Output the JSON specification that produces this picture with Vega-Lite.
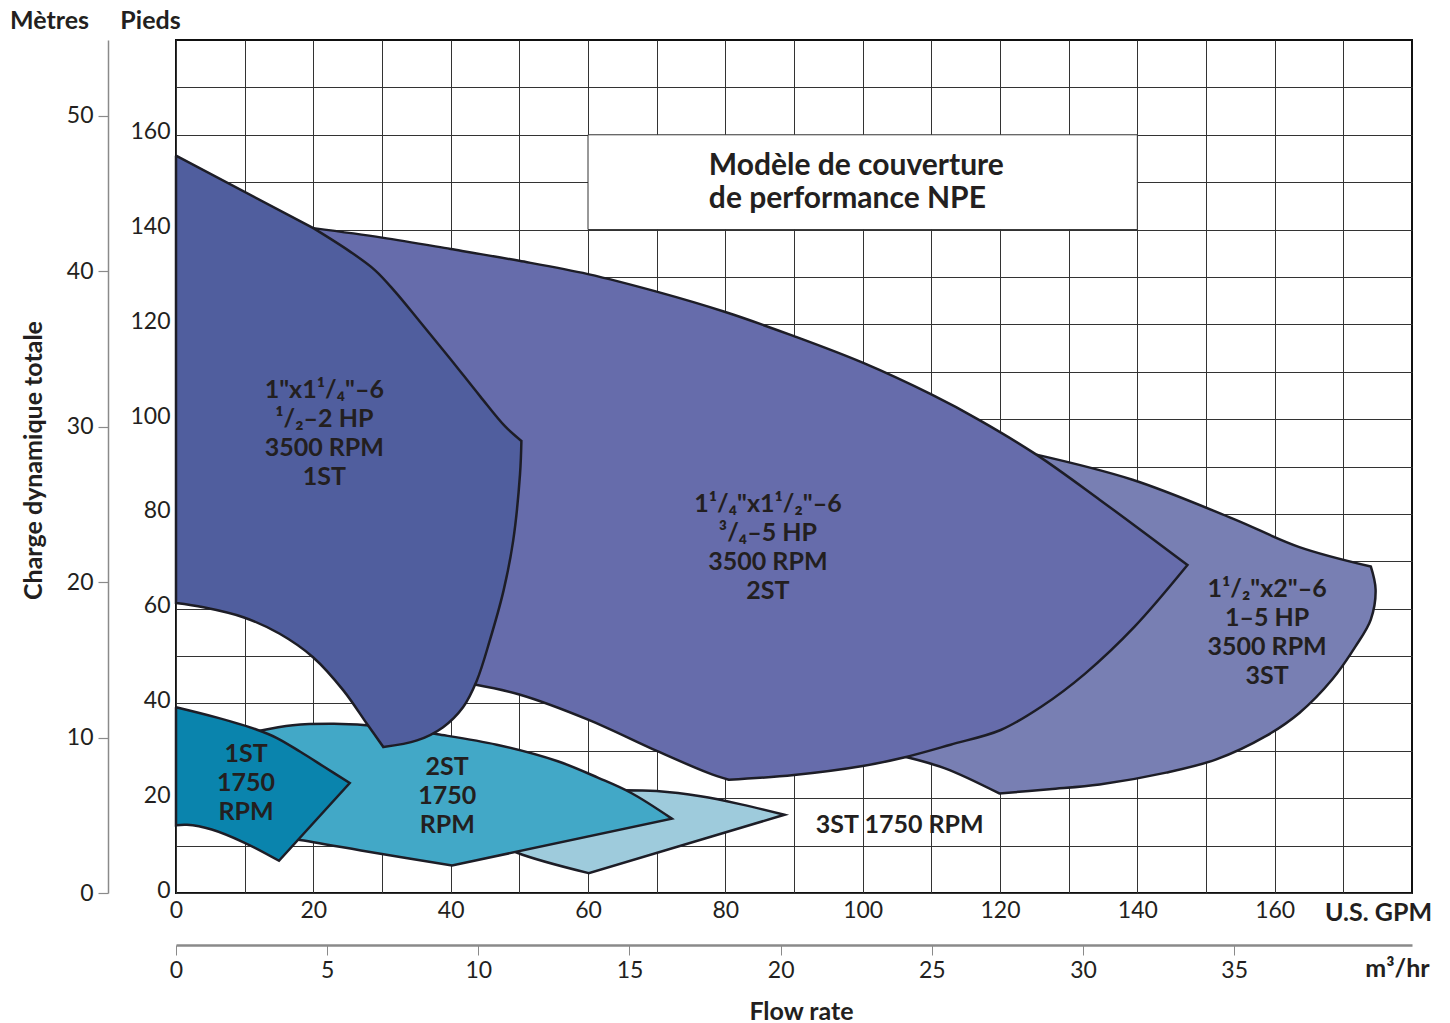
{
  "$schema": "https://vega.github.io/schema/vega-lite/v6.json",
  "width": 1236,
  "height": 853,
  "autosize": "none",
  "padding": {"left": 176, "top": 40, "right": 38, "bottom": 130},
  "background": "white",
  "config": {
    "font": "Lato",
    "view": {"stroke": "#111111", "strokeWidth": 2},
    "axis": {"labelFont": "Lato", "titleFont": "Lato", "labelColor": "#231f20", "titleColor": "#231f20", "labelFontSize": 23, "titleFontSize": 25, "titleFontWeight": "bold", "labelFlush": false, "labelOverlap": false, "labelBound": false}
  },
  "datasets": {
    "shapes": [
      {"s": "A", "i": 0, "gpm": 0, "ft": 155.6}, {"s": "A", "i": 1, "gpm": 0, "ft": 155.6}, {"s": "A", "i": 2, "gpm": 20, "ft": 140.3},
      {"s": "A", "i": 3, "gpm": 20, "ft": 140.3}, {"s": "A", "i": 4, "gpm": 25.3, "ft": 135.4}, {"s": "A", "i": 5, "gpm": 29.0, "ft": 131.4},
      {"s": "A", "i": 6, "gpm": 31.9, "ft": 126.9}, {"s": "A", "i": 7, "gpm": 35.5, "ft": 120.6}, {"s": "A", "i": 8, "gpm": 39.9, "ft": 112.8},
      {"s": "A", "i": 9, "gpm": 44.3, "ft": 104.8}, {"s": "A", "i": 10, "gpm": 47.9, "ft": 98.5}, {"s": "A", "i": 11, "gpm": 50.3, "ft": 95.4},
      {"s": "A", "i": 12, "gpm": 50.3, "ft": 95.4}, {"s": "A", "i": 13, "gpm": 50.1, "ft": 88.4}, {"s": "A", "i": 14, "gpm": 49.1, "ft": 74.3},
      {"s": "A", "i": 15, "gpm": 47.7, "ft": 63.8}, {"s": "A", "i": 16, "gpm": 45.7, "ft": 53.3}, {"s": "A", "i": 17, "gpm": 43.8, "ft": 44.8},
      {"s": "A", "i": 18, "gpm": 41.8, "ft": 39.2}, {"s": "A", "i": 19, "gpm": 38.9, "ft": 35.0}, {"s": "A", "i": 20, "gpm": 35.1, "ft": 32.2},
      {"s": "A", "i": 21, "gpm": 30.2, "ft": 30.8}, {"s": "A", "i": 22, "gpm": 30.2, "ft": 30.8}, {"s": "A", "i": 23, "gpm": 27.8, "ft": 35.7},
      {"s": "A", "i": 24, "gpm": 24.4, "ft": 42.7}, {"s": "A", "i": 25, "gpm": 20.0, "ft": 49.7}, {"s": "A", "i": 26, "gpm": 15.1, "ft": 54.7},
      {"s": "A", "i": 27, "gpm": 9.8, "ft": 58.2}, {"s": "A", "i": 28, "gpm": 4.0, "ft": 60.3}, {"s": "A", "i": 29, "gpm": 0, "ft": 61.2},
      {"s": "A", "i": 30, "gpm": 0, "ft": 61.2}, {"s": "A", "i": 31, "gpm": 0, "ft": 155.6}, {"s": "A", "i": 32, "gpm": 0, "ft": 155.6},

      {"s": "B", "i": 0, "gpm": 20, "ft": 140.3}, {"s": "B", "i": 1, "gpm": 20, "ft": 140.3}, {"s": "B", "i": 2, "gpm": 30, "ft": 138.3},
      {"s": "B", "i": 3, "gpm": 40, "ft": 135.9}, {"s": "B", "i": 4, "gpm": 50, "ft": 133.4}, {"s": "B", "i": 5, "gpm": 60, "ft": 130.6},
      {"s": "B", "i": 6, "gpm": 70, "ft": 126.9}, {"s": "B", "i": 7, "gpm": 80, "ft": 122.6}, {"s": "B", "i": 8, "gpm": 90, "ft": 117.5},
      {"s": "B", "i": 9, "gpm": 100, "ft": 111.9}, {"s": "B", "i": 10, "gpm": 110, "ft": 105.2}, {"s": "B", "i": 11, "gpm": 117, "ft": 99.8},
      {"s": "B", "i": 12, "gpm": 125.3, "ft": 92.5}, {"s": "B", "i": 13, "gpm": 134.5, "ft": 83.0}, {"s": "B", "i": 14, "gpm": 147.3, "ft": 69.2},
      {"s": "B", "i": 15, "gpm": 147.3, "ft": 69.2}, {"s": "B", "i": 16, "gpm": 139.6, "ft": 56.2}, {"s": "B", "i": 17, "gpm": 132.4, "ft": 46.3},
      {"s": "B", "i": 18, "gpm": 126.0, "ft": 39.3}, {"s": "B", "i": 19, "gpm": 120.1, "ft": 34.4}, {"s": "B", "i": 20, "gpm": 112.8, "ft": 31.3},
      {"s": "B", "i": 21, "gpm": 106.0, "ft": 28.6}, {"s": "B", "i": 22, "gpm": 100, "ft": 26.8}, {"s": "B", "i": 23, "gpm": 90, "ft": 24.9},
      {"s": "B", "i": 24, "gpm": 80.5, "ft": 23.9}, {"s": "B", "i": 25, "gpm": 80.5, "ft": 23.9}, {"s": "B", "i": 26, "gpm": 77.4, "ft": 25.4},
      {"s": "B", "i": 27, "gpm": 70, "ft": 30.0}, {"s": "B", "i": 28, "gpm": 60, "ft": 36.6}, {"s": "B", "i": 29, "gpm": 50, "ft": 41.9},
      {"s": "B", "i": 30, "gpm": 43.5, "ft": 44.0}, {"s": "B", "i": 31, "gpm": 43.5, "ft": 44.0}, {"s": "B", "i": 32, "gpm": 40, "ft": 70},
      {"s": "B", "i": 33, "gpm": 30, "ft": 120}, {"s": "B", "i": 34, "gpm": 20, "ft": 140.3}, {"s": "B", "i": 35, "gpm": 20, "ft": 140.3},

      {"s": "C", "i": 0, "gpm": 125.3, "ft": 92.5}, {"s": "C", "i": 1, "gpm": 125.3, "ft": 92.5}, {"s": "C", "i": 2, "gpm": 139.3, "ft": 87.2},
      {"s": "C", "i": 3, "gpm": 153.9, "ft": 79.0}, {"s": "C", "i": 4, "gpm": 163.6, "ft": 73.0}, {"s": "C", "i": 5, "gpm": 174.0, "ft": 68.9},
      {"s": "C", "i": 6, "gpm": 174.0, "ft": 68.9}, {"s": "C", "i": 7, "gpm": 174.7, "ft": 64.0}, {"s": "C", "i": 8, "gpm": 174.0, "ft": 57.7},
      {"s": "C", "i": 9, "gpm": 171.8, "ft": 52.1}, {"s": "C", "i": 10, "gpm": 168.4, "ft": 45.1}, {"s": "C", "i": 11, "gpm": 163.6, "ft": 38.0},
      {"s": "C", "i": 12, "gpm": 158.7, "ft": 33.1}, {"s": "C", "i": 13, "gpm": 151.5, "ft": 28.2}, {"s": "C", "i": 14, "gpm": 144.2, "ft": 25.4},
      {"s": "C", "i": 15, "gpm": 134.5, "ft": 22.9}, {"s": "C", "i": 16, "gpm": 127.2, "ft": 21.9}, {"s": "C", "i": 17, "gpm": 119.9, "ft": 21.0},
      {"s": "C", "i": 18, "gpm": 119.9, "ft": 21.0}, {"s": "C", "i": 19, "gpm": 112.0, "ft": 26.3}, {"s": "C", "i": 20, "gpm": 106.0, "ft": 28.8},
      {"s": "C", "i": 21, "gpm": 106.0, "ft": 28.8}, {"s": "C", "i": 22, "gpm": 105, "ft": 40}, {"s": "C", "i": 23, "gpm": 120, "ft": 80},
      {"s": "C", "i": 24, "gpm": 125.3, "ft": 92.5}, {"s": "C", "i": 25, "gpm": 125.3, "ft": 92.5},

      {"s": "D", "i": 0, "gpm": 12.0, "ft": 34.2}, {"s": "D", "i": 1, "gpm": 12.0, "ft": 34.2}, {"s": "D", "i": 2, "gpm": 17.0, "ft": 35.4},
      {"s": "D", "i": 3, "gpm": 23.0, "ft": 35.7}, {"s": "D", "i": 4, "gpm": 27.7, "ft": 35.4}, {"s": "D", "i": 5, "gpm": 33.0, "ft": 34.6},
      {"s": "D", "i": 6, "gpm": 38.1, "ft": 33.5}, {"s": "D", "i": 7, "gpm": 46.7, "ft": 31.3}, {"s": "D", "i": 8, "gpm": 55.6, "ft": 27.8},
      {"s": "D", "i": 9, "gpm": 61.5, "ft": 24.3}, {"s": "D", "i": 10, "gpm": 66.3, "ft": 21.1}, {"s": "D", "i": 11, "gpm": 72.2, "ft": 15.7},
      {"s": "D", "i": 12, "gpm": 72.2, "ft": 15.7}, {"s": "D", "i": 13, "gpm": 40.2, "ft": 5.8}, {"s": "D", "i": 14, "gpm": 40.2, "ft": 5.8},
      {"s": "D", "i": 15, "gpm": 28.9, "ft": 8.5}, {"s": "D", "i": 16, "gpm": 17.6, "ft": 11.3}, {"s": "D", "i": 17, "gpm": 14, "ft": 12},
      {"s": "D", "i": 18, "gpm": 14, "ft": 12}, {"s": "D", "i": 19, "gpm": 11.1, "ft": 24}, {"s": "D", "i": 20, "gpm": 12.0, "ft": 34.2},
      {"s": "D", "i": 21, "gpm": 12.0, "ft": 34.2},

      {"s": "E", "i": 0, "gpm": 65.2, "ft": 21.7}, {"s": "E", "i": 1, "gpm": 65.2, "ft": 21.7}, {"s": "E", "i": 2, "gpm": 70, "ft": 21.5},
      {"s": "E", "i": 3, "gpm": 76.4, "ft": 20.4}, {"s": "E", "i": 4, "gpm": 82.3, "ft": 18.7}, {"s": "E", "i": 5, "gpm": 88.6, "ft": 16.5},
      {"s": "E", "i": 6, "gpm": 88.6, "ft": 16.5}, {"s": "E", "i": 7, "gpm": 60.1, "ft": 4.2}, {"s": "E", "i": 8, "gpm": 60.1, "ft": 4.2},
      {"s": "E", "i": 9, "gpm": 49.7, "ft": 8.5}, {"s": "E", "i": 10, "gpm": 45, "ft": 12}, {"s": "E", "i": 11, "gpm": 45, "ft": 12},
      {"s": "E", "i": 12, "gpm": 55, "ft": 20}, {"s": "E", "i": 13, "gpm": 65.2, "ft": 21.7}, {"s": "E", "i": 14, "gpm": 65.2, "ft": 21.7},

      {"s": "F", "i": 0, "gpm": 0, "ft": 39.2}, {"s": "F", "i": 1, "gpm": 0, "ft": 39.2}, {"s": "F", "i": 2, "gpm": 6, "ft": 37.0},
      {"s": "F", "i": 3, "gpm": 11.7, "ft": 34.5}, {"s": "F", "i": 4, "gpm": 14.7, "ft": 32.7}, {"s": "F", "i": 5, "gpm": 18.1, "ft": 29.8},
      {"s": "F", "i": 6, "gpm": 21.5, "ft": 26.7}, {"s": "F", "i": 7, "gpm": 25.3, "ft": 23.2}, {"s": "F", "i": 8, "gpm": 25.3, "ft": 23.2},
      {"s": "F", "i": 9, "gpm": 15.0, "ft": 6.8}, {"s": "F", "i": 10, "gpm": 15.0, "ft": 6.8}, {"s": "F", "i": 11, "gpm": 10, "ft": 10.6},
      {"s": "F", "i": 12, "gpm": 5.2, "ft": 13.4}, {"s": "F", "i": 13, "gpm": 1.6, "ft": 14.4}, {"s": "F", "i": 14, "gpm": 0, "ft": 14.3},
      {"s": "F", "i": 15, "gpm": 0, "ft": 14.3}, {"s": "F", "i": 16, "gpm": 0, "ft": 39.2}, {"s": "F", "i": 17, "gpm": 0, "ft": 39.2}
    ],
    "labels": [
      {"gpm": 21.6, "ft": 106.1, "label": ["1\"x1¹/₄\"–6", "¹/₂–2 HP", "3500 RPM", "1ST"]},
      {"gpm": 86.2, "ft": 82.1, "label": ["1¹/₄\"x1¹/₂\"–6", "³/₄–5 HP", "3500 RPM", "2ST"]},
      {"gpm": 158.9, "ft": 64.2, "label": ["1¹/₂\"x2\"–6", "1–5 HP", "3500 RPM", "3ST"]},
      {"gpm": 10.2, "ft": 29.3, "label": ["1ST", "1750", "RPM"]},
      {"gpm": 39.5, "ft": 26.5, "label": ["2ST", "1750", "RPM"]},
      {"gpm": 105.4, "ft": 14.3, "label": ["3ST 1750 RPM"]}
    ]
  },
  "layer": [
    {
      "data": {"name": "shapes"},
      "transform": [{"filter": "datum.s === 'E'"}],
      "mark": {"type": "line", "interpolate": "catmull-rom", "fill": "#9ecbdc", "stroke": "#1d1d26", "strokeWidth": 2.5},
      "encoding": {
        "x": {"field": "gpm", "type": "quantitative", "scale": {"domain": [0, 180], "nice": false},
          "axis": {"orient": "bottom", "values": [0, 10, 20, 30, 40, 50, 60, 70, 80, 90, 100, 110, 120, 130, 140, 150, 160, 170],
            "labelExpr": "datum.value % 20 === 0 ? datum.label : ''", "grid": true, "gridColor": "#333333", "gridWidth": 1,
            "ticks": false, "domain": false, "labelPadding": 6,
            "title": "U.S. GPM", "titleX": 1202, "titleY": 27, "titleAlign": "center", "titleBaseline": "alphabetic"}},
        "y": {"field": "ft", "type": "quantitative", "scale": {"domain": [0, 180], "nice": false},
          "axis": {"orient": "left", "values": [0, 10, 20, 30, 40, 50, 60, 70, 80, 90, 100, 110, 120, 130, 140, 150, 160, 170],
            "labelExpr": "datum.value % 20 === 0 ? datum.label : ''", "grid": true, "gridColor": "#333333", "gridWidth": 1,
            "ticks": false, "domain": false, "labelPadding": 6, "labelBaseline": "middle", "labelOffset": -3,
            "title": "Pieds", "titleAngle": 0, "titleX": -26, "titleY": -12, "titleAlign": "center", "titleBaseline": "alphabetic"}},
        "order": {"field": "i", "type": "quantitative"}
      }
    },
    {
      "data": {"name": "shapes"},
      "transform": [{"filter": "datum.s === 'D'"}],
      "mark": {"type": "line", "interpolate": "catmull-rom", "fill": "#42a8c7", "stroke": "#1d1d26", "strokeWidth": 2.5},
      "encoding": {
        "x": {"field": "gpm", "type": "quantitative", "scale": {"domain": [0, 180], "nice": false},
          "axis": {"orient": "bottom", "offset": 52, "values": [0, 22.01434, 44.02868, 66.04302, 88.05736, 110.0717, 132.08604, 154.10038],
            "labelExpr": "format(datum.value / 4.402868, 'd')", "grid": false, "domain": true, "domainColor": "#8a8a8a", "domainWidth": 2.5,
            "ticks": true, "tickColor": "#8a8a8a", "tickSize": 10, "tickWidth": 1, "labelPadding": 4,
            "title": "m³/hr", "titleX": 1221, "titleY": 31, "titleAlign": "center", "titleBaseline": "alphabetic"}},
        "y": {"field": "ft", "type": "quantitative", "scale": {"domain": [0, 180], "nice": false},
          "axis": {"orient": "left", "offset": 68, "values": [0, 32.8084, 65.6168, 98.4252, 131.2336, 164.042],
            "labelExpr": "format(datum.value / 3.28084, 'd')", "grid": false, "domain": true, "domainColor": "#8a8a8a", "domainWidth": 1.5,
            "ticks": true, "tickColor": "#8a8a8a", "tickSize": 10, "tickWidth": 1.2, "labelPadding": 5, "labelBaseline": "middle",
            "title": "Mètres", "titleAngle": 0, "titleX": -59, "titleY": -12, "titleAlign": "center", "titleBaseline": "alphabetic"}},
        "order": {"field": "i", "type": "quantitative"}
      }
    },
    {
      "data": {"name": "shapes"},
      "transform": [{"filter": "datum.s === 'F'"}],
      "mark": {"type": "line", "interpolate": "catmull-rom", "fill": "#0a84ad", "stroke": "#1d1d26", "strokeWidth": 2.5},
      "encoding": {
        "x": {"field": "gpm", "type": "quantitative", "scale": {"domain": [0, 180], "nice": false},
          "axis": {"orient": "bottom", "labels": false, "ticks": false, "domain": false, "grid": false,
            "title": "Flow rate", "titleX": 625, "titleY": 126, "titleAlign": "center", "titleBaseline": "alphabetic"}},
        "y": {"field": "ft", "type": "quantitative", "scale": {"domain": [0, 180], "nice": false},
          "axis": {"orient": "left", "labels": false, "ticks": false, "domain": false, "grid": false,
            "title": "Charge dynamique totale", "titleAngle": 270, "titleX": -143, "titleY": 420, "titleAlign": "center", "titleBaseline": "middle"}},
        "order": {"field": "i", "type": "quantitative"}
      }
    },
    {
      "data": {"name": "shapes"},
      "transform": [{"filter": "datum.s === 'C'"}],
      "mark": {"type": "line", "interpolate": "catmull-rom", "fill": "#787fb3", "stroke": "#1d1d26", "strokeWidth": 2.5},
      "encoding": {
        "x": {"field": "gpm", "type": "quantitative", "scale": {"domain": [0, 180], "nice": false}, "axis": null},
        "y": {"field": "ft", "type": "quantitative", "scale": {"domain": [0, 180], "nice": false}, "axis": null},
        "order": {"field": "i", "type": "quantitative"}
      }
    },
    {
      "data": {"name": "shapes"},
      "transform": [{"filter": "datum.s === 'B'"}],
      "mark": {"type": "line", "interpolate": "catmull-rom", "fill": "#666cab", "stroke": "#1d1d26", "strokeWidth": 2.5},
      "encoding": {
        "x": {"field": "gpm", "type": "quantitative", "scale": {"domain": [0, 180], "nice": false}, "axis": null},
        "y": {"field": "ft", "type": "quantitative", "scale": {"domain": [0, 180], "nice": false}, "axis": null},
        "order": {"field": "i", "type": "quantitative"}
      }
    },
    {
      "data": {"name": "shapes"},
      "transform": [{"filter": "datum.s === 'A'"}],
      "mark": {"type": "line", "interpolate": "catmull-rom", "fill": "#505e9e", "stroke": "#1d1d26", "strokeWidth": 2.5},
      "encoding": {
        "x": {"field": "gpm", "type": "quantitative", "scale": {"domain": [0, 180], "nice": false}, "axis": null},
        "y": {"field": "ft", "type": "quantitative", "scale": {"domain": [0, 180], "nice": false}, "axis": null},
        "order": {"field": "i", "type": "quantitative"}
      }
    },
    {
      "data": {"values": [{"gpm0": 60, "gpm1": 140, "ft0": 140, "ft1": 160}]},
      "mark": {"type": "rect", "fill": "white", "stroke": "#333333", "strokeWidth": 1},
      "encoding": {
        "x": {"field": "gpm0", "type": "quantitative", "scale": {"domain": [0, 180], "nice": false}, "axis": null},
        "x2": {"field": "gpm1"},
        "y": {"field": "ft0", "type": "quantitative", "scale": {"domain": [0, 180], "nice": false}, "axis": null},
        "y2": {"field": "ft1"}
      }
    },
    {
      "data": {"name": "labels"},
      "mark": {"type": "text", "align": "center", "baseline": "middle", "font": "Lato", "fontSize": 25, "fontWeight": "bold", "lineHeight": 29, "color": "#231f20"},
      "encoding": {
        "x": {"field": "gpm", "type": "quantitative", "scale": {"domain": [0, 180], "nice": false}, "axis": null},
        "y": {"field": "ft", "type": "quantitative", "scale": {"domain": [0, 180], "nice": false}, "axis": null},
        "text": {"field": "label", "type": "nominal"}
      }
    },
    {
      "data": {"values": [{"gpm": 77.6, "ft": 153.5, "label": ["Modèle de couverture", "de performance NPE"]}]},
      "mark": {"type": "text", "align": "left", "baseline": "middle", "font": "Lato", "fontSize": 30, "fontWeight": "bold", "lineHeight": 33, "color": "#231f20"},
      "encoding": {
        "x": {"field": "gpm", "type": "quantitative", "scale": {"domain": [0, 180], "nice": false}, "axis": null},
        "y": {"field": "ft", "type": "quantitative", "scale": {"domain": [0, 180], "nice": false}, "axis": null},
        "text": {"field": "label", "type": "nominal"}
      }
    }
  ],
  "resolve": {"axis": {"x": "independent", "y": "independent"}}
}
